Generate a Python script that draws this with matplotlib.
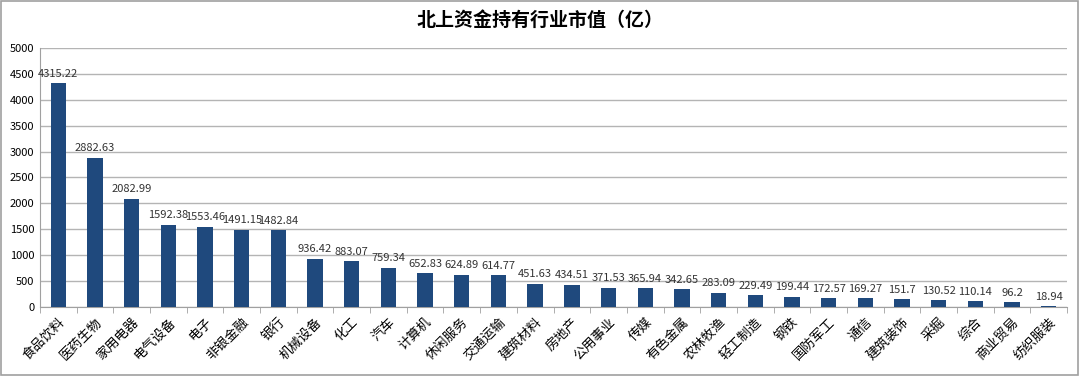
import matplotlib.pyplot as plt
import numpy as np

plt.rcParams['font.family'] = ['Noto Sans CJK SC', 'DejaVu Sans']

industries = ['食品饮料', '医药生物', '家用电器', '电气设备', '电子', '非银金融', '银行',
              '机械设备', '化工', '汽车', '计算机', '休闲服务', '交通运输', '建筑材料',
              '房地产', '公用事业', '传媒', '有色金属', '农林牧渔', '轻工制造', '钢铁',
              '国防军工', '通信', '建筑装饰', '采掘', '综合', '商业贸易', '纺织服装']
values = [4315.22, 2882.63, 2082.99, 1592.38, 1553.46, 1491.15, 1482.84,
          936.42, 883.07, 759.34, 652.83, 624.89, 614.77, 451.63,
          434.51, 371.53, 365.94, 342.65, 283.09, 229.49, 199.44,
          172.57, 169.27, 151.7, 130.52, 110.14, 96.2, 18.94]

fig = plt.figure(figsize=(10.8, 3.76), dpi=100)
ax = fig.add_axes([0.037, 0.183, 0.951, 0.690])

x = np.arange(len(industries))
ax.bar(x, values, width=0.42, color='#1F497D', zorder=3)

for xi, v in zip(x, values):
    ax.text(xi, v + 90, f'{v:g}', ha='center', va='bottom', fontsize=8, color='#333333')

ax.set_xlim(-0.5, len(industries) - 0.5)
ax.set_ylim(0, 5000)
ax.set_yticks(np.arange(0, 5001, 500))
ax.yaxis.grid(True, color='#B4B4B4', linewidth=1.0, zorder=0)
ax.set_xticks(x)
ax.set_xticklabels(industries, rotation=45, ha='right', rotation_mode='anchor', fontsize=9.5)
ax.set_xticks(np.arange(-0.5, len(industries), 1), minor=True)
ax.tick_params(axis='x', which='major', length=0, pad=6)
ax.tick_params(axis='x', which='minor', length=4, color='#A0A0A0')
ax.tick_params(axis='y', length=0, labelsize=8, pad=4)

for side in ['top', 'right']:
    ax.spines[side].set_visible(False)
ax.spines['left'].set_color('#A0A0A0')
ax.spines['bottom'].set_color('#A0A0A0')

fig.text(0.5, 0.945, '北上资金持有行业市值（亿）', ha='center', va='center',
         fontsize=13.7, fontweight='bold')

border = plt.Rectangle((0.001, 0.002), 0.997, 0.995, transform=fig.transFigure,
                       fill=False, edgecolor='#A0A0A0', linewidth=1.2)
fig.patches.append(border)

fig.savefig('out.png', dpi=100)
